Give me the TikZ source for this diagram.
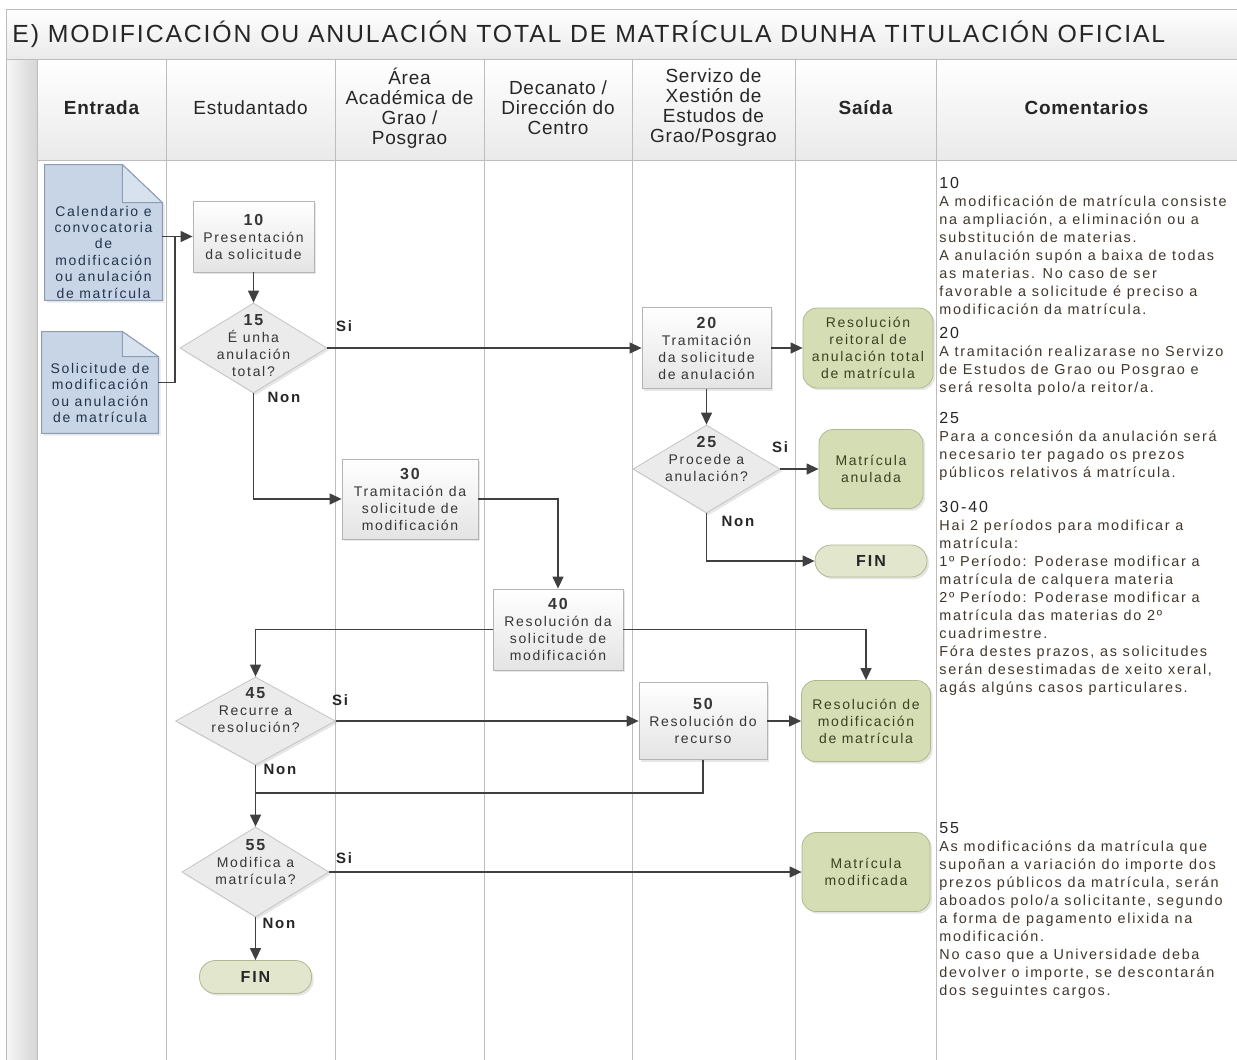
\documentclass[tikz,border=0pt]{standalone}
\usepackage{fontspec}
\setmainfont{Liberation Sans}
\newfontfamily\bodyfont[LetterSpace=12]{Liberation Sans}
\newfontfamily\headfont[LetterSpace=4]{Liberation Sans}
\newfontfamily\titlefont[LetterSpace=7.5]{Liberation Sans}
\usetikzlibrary{arrows.meta,shapes.geometric,shadows}

\definecolor{lanegray}{HTML}{BDBDBD}
\definecolor{linegray}{HTML}{404040}
\definecolor{procline}{HTML}{B4B4B4}
\definecolor{procbot}{HTML}{E4E4E4}
\definecolor{decfill}{HTML}{EBEBEB}
\definecolor{decline}{HTML}{C4C4C4}
\definecolor{outfill}{HTML}{D5DDB4}
\definecolor{outborder}{HTML}{AEB98F}
\definecolor{finfill}{HTML}{E2E6CD}
\definecolor{outtext}{HTML}{3B4023}
\definecolor{docfill}{HTML}{C8D5E6}
\definecolor{docfold}{HTML}{D8E2EF}
\definecolor{docline}{HTML}{8D9DB3}
\definecolor{doctextcol}{HTML}{23344E}
\definecolor{boxtext}{HTML}{363636}
\definecolor{cmttext}{HTML}{40362B}
\definecolor{headtext}{HTML}{262626}
\definecolor{headbot}{HTML}{EAEAEA}
\definecolor{stripl}{HTML}{F6F6F6}
\definecolor{stripr}{HTML}{D6D6D6}

\begin{document}
\begin{tikzpicture}[x=0.5pt, y=-0.5pt,
  boxsize/.style 2 args={minimum width=#1*0.5pt, minimum height=#2*0.5pt},
  lane/.style={draw=lanegray, line width=0.5pt},
  link/.style={draw=linegray, line width=0.65pt},
  flow/.style={link, -{Triangle[length=6pt,width=5.5pt]}},
  shadowed/.style={drop shadow={shadow xshift=1.1pt, shadow yshift=-1.1pt, opacity=0.2}},
  proc/.style={rectangle, draw=procline, top color=white, bottom color=procbot, shadowed, align=center, inner sep=1pt, text=boxtext, font=\bodyfont\fontsize{7}{8.5}\selectfont},
  decision/.style={diamond, draw=decline, fill=decfill, inner sep=0pt, shadowed},
  dtext/.style={align=center, inner sep=0pt, text=boxtext, font=\bodyfont\fontsize{7}{8.5}\selectfont},
  outcome/.style={rectangle, rounded corners=7pt, draw=outborder, fill=outfill, shadowed, align=center, inner sep=1pt, text=outtext, font=\bodyfont\fontsize{7}{8.5}\selectfont},
  finish/.style={outcome, rounded corners=8pt, fill=finfill, text=headtext, font=\bodyfont\bfseries\fontsize{8}{9}\selectfont},
  doc/.style={rectangle, inner sep=0pt},
  docshape/.style={draw=docline, fill=docfill, line width=0.5pt},
  doctext/.style={align=center, inner sep=0pt, text=doctextcol, font=\bodyfont\fontsize{7}{8.2}\selectfont},
  tag/.style={inner sep=0pt, text=headtext, font=\bodyfont\bfseries\fontsize{7.5}{9}\selectfont},
  head/.style={align=center, inner sep=0pt, text=headtext, font=\headfont\fontsize{9.5}{10}\selectfont},
  comment/.style={anchor=north west, align=left, inner sep=0pt, text=cmttext, font=\bodyfont\fontsize{7.2}{9}\selectfont},
]
\useasboundingbox (0,0) rectangle (1237,1060);

% title band, header row and lanes
\shade[top color=white, bottom color=headbot] (6,9) rectangle (1240,59);
\shade[top color=white, bottom color=headbot] (37,59) rectangle (1240,160);
\shade[left color=stripl, right color=stripr] (6,59) rectangle (37,1060);
\draw[lane] (1240,9) -- (6,9) -- (6,1060);
\draw[lane] (6,59) -- (1240,59);
\draw[lane] (37,160) -- (1240,160);
\foreach \x in {37,166,335,484,632,795,936}
  \draw[lane] (\x,59) -- (\x,1060);

\node[anchor=west, inner sep=0pt, text=headtext, font=\titlefont\fontsize{12.4}{14}\selectfont] (title) at (12,34)
  {E) MODIFICACIÓN OU ANULACIÓN TOTAL DE MATRÍCULA DUNHA TITULACIÓN OFICIAL};

\node[head] (hentrada) at (101.5,108) {\bfseries Entrada};
\node[head] (hestud) at (250.5,108) {Estudantado};
\node[head] (harea) at (409.5,108) {Área\\Académica de\\Grao /\\Posgrao};
\node[head] (hdecan) at (558,108) {Decanato /\\Dirección do\\Centro};
\node[head] (hserv) at (713.5,108) {Servizo de\\Xestión de\\Estudos de\\Grao/Posgrao};
\node[head] (hsaida) at (865.5,108) {\bfseries Saída};
\node[head] (hcoment) at (1086.5,108) {\bfseries Comentarios};

% input documents
\node[doc, boxsize={117}{135}] (cal) at (103.5,232.5) {};
\path[docshape, shadowed] (cal.north west) -- ([xshift=-20pt]cal.north east) -- ([yshift=-19pt]cal.north east)
  -- (cal.south east) -- (cal.south west) -- cycle;
\path[docshape, fill=docfold] ([xshift=-20pt]cal.north east) -- ([xshift=-20pt,yshift=-19pt]cal.north east)
  -- ([yshift=-19pt]cal.north east) -- cycle;
\node[doctext] (caltext) at (103.5,252) {Calendario e\\convocatoria\\de\\modificación\\ou anulación\\de matrícula};

\node[doc, boxsize={116}{101}] (sol) at (100,382.5) {};
\path[docshape, shadowed] (sol.north west) -- ([xshift=-18pt]sol.north east) -- ([yshift=-12.5pt]sol.north east)
  -- (sol.south east) -- (sol.south west) -- cycle;
\path[docshape, fill=docfold] ([xshift=-18pt]sol.north east) -- ([xshift=-18pt,yshift=-12.5pt]sol.north east)
  -- ([yshift=-12.5pt]sol.north east) -- cycle;
\node[doctext] (soltext) at (100,393) {Solicitude de\\modificación\\ou anulación\\de matrícula};

% steps
\node[proc, boxsize={121}{71}] (p10) at (253.5,236.5) {{\bfseries\fontsize{8}{9}\selectfont 10}\\Presentación\\da solicitude};
\node[proc, boxsize={129}{81}] (p20) at (706.5,348) {{\bfseries\fontsize{8}{9}\selectfont 20}\\Tramitación\\da solicitude\\de anulación};
\node[proc, boxsize={136}{80}] (p30) at (410,499) {{\bfseries\fontsize{8}{9}\selectfont 30}\\Tramitación da\\solicitude de\\modificación};
\node[proc, boxsize={130}{81}] (p40) at (558,629.5) {{\bfseries\fontsize{8}{9}\selectfont 40}\\Resolución da\\solicitude de\\modificación};
\node[proc, boxsize={128}{77}] (p50) at (703,721) {{\bfseries\fontsize{8}{9}\selectfont 50}\\Resolución do\\recurso};

% decisions
\node[decision, boxsize={147}{90}] (d15) at (253.5,348) {};
\node[dtext] (d15text) at (253.5,346) {{\bfseries\fontsize{8}{9}\selectfont 15}\\É unha\\anulación\\total?};
\node[decision, boxsize={147}{88}] (d25) at (706.5,469) {};
\node[dtext] (d25text) at (706.5,459) {{\bfseries\fontsize{8}{9}\selectfont 25}\\Procede a\\anulación?};
\node[decision, boxsize={160}{88}] (d45) at (255.5,721) {};
\node[dtext] (d45text) at (255.5,710) {{\bfseries\fontsize{8}{9}\selectfont 45}\\Recurre a\\resolución?};
\node[decision, boxsize={147}{90}] (d55) at (255.5,872) {};
\node[dtext] (d55text) at (255.5,862) {{\bfseries\fontsize{8}{9}\selectfont 55}\\Modifica a\\matrícula?};

% outputs
\node[outcome, boxsize={130}{80}] (r20) at (868,348) {Resolución\\reitoral de\\anulación total\\de matrícula};
\node[outcome, boxsize={104}{79}] (anul) at (871,469) {Matrícula\\anulada};
\node[finish, boxsize={112}{32}] (fin1) at (871,561) {FIN};
\node[outcome, boxsize={129}{81}] (rmod) at (866,721) {Resolución de\\modificación\\de matrícula};
\node[outcome, boxsize={128}{79}] (mmod) at (866,872) {Matrícula\\modificada};
\node[finish, boxsize={112}{33}] (fin2) at (255.5,977) {FIN};

% connectors
\coordinate (join1) at (175,236.5);
\coordinate (join2) at (255.5,793);
\draw[flow] (cal.east |- p10.west) -- (p10.west);
\draw[link] (sol.east) -| (join1);
\draw[flow] (p10.south) -- (d15.north);
\draw[flow] (d15.east) -- (p20.west);
\draw[flow] (p20.east) -- (r20.west);
\draw[flow] (p20.south) -- (d25.north);
\draw[flow] (d25.east) -- (anul.west);
\draw[flow] (d25.south) |- (fin1.west);
\draw[flow] (d15.south) |- (p30.west);
\draw[flow] (p30.east) -| (p40.north);
\draw[flow] (p40.west) -| (d45.north);
\draw[flow] (p40.east) -| (rmod.north);
\draw[flow] (d45.east) -- (p50.west);
\draw[flow] (p50.east) -- (rmod.west);
\draw[link] (p50.south) |- (join2);
\draw[flow] (d45.south) -- (d55.north);
\draw[flow] (d55.east) -- (mmod.west);
\draw[flow] (d55.south) -- (fin2.north);

\node[tag] (si15) at (344,326) {Si};
\node[tag] (non15) at (284,397) {Non};
\node[tag] (si25) at (780,447) {Si};
\node[tag] (non25) at (738,521) {Non};
\node[tag] (si45) at (340,700) {Si};
\node[tag] (non45) at (280,769) {Non};
\node[tag] (si55) at (344,858) {Si};
\node[tag] (non55) at (279,923) {Non};

% comments
\node[comment] (c10) at (939,177) {{\color{headtext}\fontsize{8}{9}\selectfont 10}\\A modificación de matrícula consiste\\na ampliación, a eliminación ou a\\substitución de materias.\\A anulación supón a baixa de todas\\as materias. No caso de ser\\favorable a solicitude é preciso a\\modificación da matrícula.};
\node[comment] (c20) at (939,327) {{\color{headtext}\fontsize{8}{9}\selectfont 20}\\A tramitación realizarase no Servizo\\de Estudos de Grao ou Posgrao e\\será resolta polo/a reitor/a.};
\node[comment] (c25) at (939,412) {{\color{headtext}\fontsize{8}{9}\selectfont 25}\\Para a concesión da anulación será\\necesario ter pagado os prezos\\públicos relativos á matrícula.};
\node[comment] (c3040) at (939,501) {{\color{headtext}\fontsize{8}{9}\selectfont 30-40}\\Hai 2 períodos para modificar a\\matrícula:\\1º Período: Poderase modificar a\\matrícula de calquera materia\\2º Período: Poderase modificar a\\matrícula das materias do 2º\\cuadrimestre.\\Fóra destes prazos, as solicitudes\\serán desestimadas de xeito xeral,\\agás algúns casos particulares.};
\node[comment] (c55) at (939,822) {{\color{headtext}\fontsize{8}{9}\selectfont 55}\\As modificacións da matrícula que\\supoñan a variación do importe dos\\prezos públicos da matrícula, serán\\aboados polo/a solicitante, segundo\\a forma de pagamento elixida na\\modificación.\\No caso que a Universidade deba\\devolver o  importe, se descontarán\\dos seguintes cargos.};
\end{tikzpicture}
\end{document}
